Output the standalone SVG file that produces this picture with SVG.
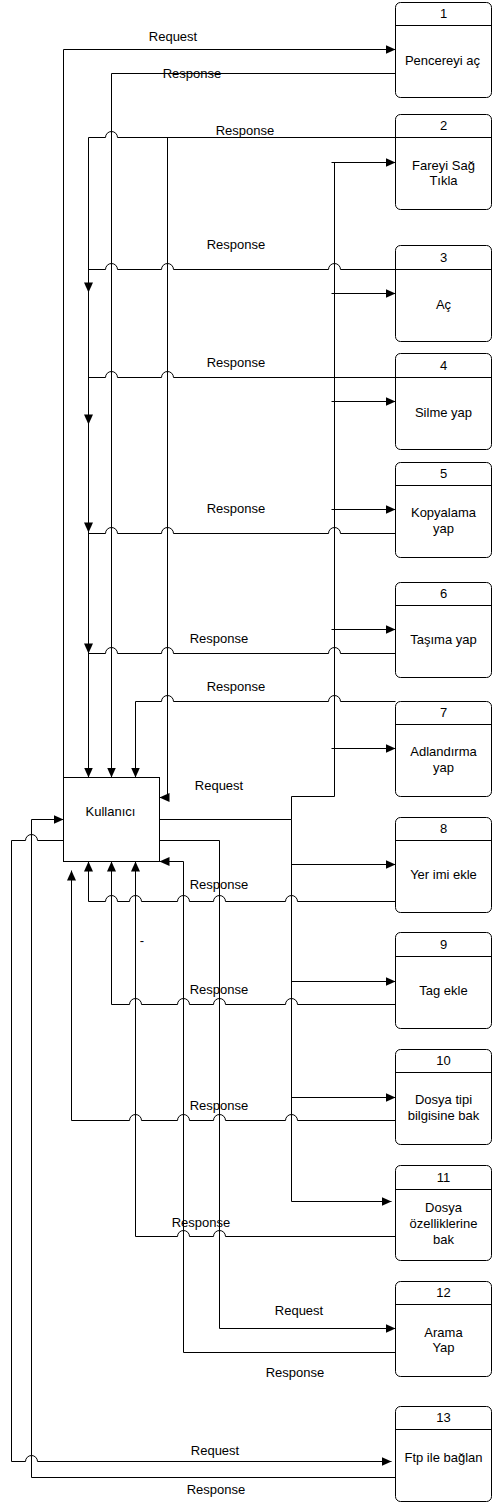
<svg xmlns="http://www.w3.org/2000/svg" xmlns:xlink="http://www.w3.org/1999/xlink" width="493" height="1503" viewBox="0 0 493 1503">
<style>
.ln{fill:none;stroke:#000;stroke-width:1}
.box{fill:#fff;stroke:#000;stroke-width:1}
.t{font-family:"Liberation Sans",Arial,sans-serif;font-size:13px;fill:#000;text-anchor:middle}
.ah{fill:#000;stroke:none}
</style>
<defs>
<marker id="arr" markerUnits="userSpaceOnUse" markerWidth="10" markerHeight="9" refX="10" refY="4.5" orient="auto">
<path d="M0,0 L10,4.5 L0,9 Z" fill="#000"/>
</marker>
<path id="tri" d="M0,0 L-10,-4.5 L-10,4.5 Z"/>
</defs>
<rect width="493" height="1503" fill="#fff"/>
<g id="connectors" transform="translate(0.5,0.5)">
<path class="ln" d="M63,777 V49 H395" marker-end="url(#arr)"/>
<path class="ln" d="M395,73 H111 V777" marker-end="url(#arr)"/>
<path class="ln" d="M395,137 H117 a6,6 0 0 0 -12,0 H88 V777" marker-end="url(#arr)"/>
<path class="ln" d="M167,137 V797 H159" marker-end="url(#arr)"/>
<path class="ln" d="M395,269 H340 a6,6 0 0 0 -12,0 H173 a6,6 0 0 0 -12,0 H117 a6,6 0 0 0 -12,0 H88"/>
<path class="ln" d="M395,377 H173 a6,6 0 0 0 -12,0 H117 a6,6 0 0 0 -12,0 H88"/>
<path class="ln" d="M395,533 H340 a6,6 0 0 0 -12,0 H173 a6,6 0 0 0 -12,0 H117 a6,6 0 0 0 -12,0 H88"/>
<path class="ln" d="M395,653 H340 a6,6 0 0 0 -12,0 H173 a6,6 0 0 0 -12,0 H117 a6,6 0 0 0 -12,0 H88"/>
<path class="ln" d="M395,701 H340 a6,6 0 0 0 -12,0 H173 a6,6 0 0 0 -12,0 H135 V777" marker-end="url(#arr)"/>
<use class="ah" href="#tri" transform="translate(88,292) rotate(90)"/>
<use class="ah" href="#tri" transform="translate(88,424) rotate(90)"/>
<use class="ah" href="#tri" transform="translate(88,532) rotate(90)"/>
<use class="ah" href="#tri" transform="translate(88,653) rotate(90)"/>
<path class="ln" d="M159,819 H291 V796 H334 V162"/>
<path class="ln" d="M331,162 H395" marker-end="url(#arr)"/>
<path class="ln" d="M331,293 H395" marker-end="url(#arr)"/>
<path class="ln" d="M331,401 H395" marker-end="url(#arr)"/>
<path class="ln" d="M331,509 H395" marker-end="url(#arr)"/>
<path class="ln" d="M331,629 H395" marker-end="url(#arr)"/>
<path class="ln" d="M331,748 H395" marker-end="url(#arr)"/>
<path class="ln" d="M291,819 V1201 H391" marker-end="url(#arr)"/>
<path class="ln" d="M291,864 H395" marker-end="url(#arr)"/>
<path class="ln" d="M291,981 H395" marker-end="url(#arr)"/>
<path class="ln" d="M291,1097 H395" marker-end="url(#arr)"/>
<path class="ln" d="M395,901 H297 a6,6 0 0 0 -12,0 H225 a6,6 0 0 0 -12,0 H189 a6,6 0 0 0 -12,0 H141 a6,6 0 0 0 -12,0 H117 a6,6 0 0 0 -12,0 H88 V861" marker-end="url(#arr)"/>
<path class="ln" d="M395,1004 H297 a6,6 0 0 0 -12,0 H225 a6,6 0 0 0 -12,0 H189 a6,6 0 0 0 -12,0 H141 a6,6 0 0 0 -12,0 H111 V861" marker-end="url(#arr)"/>
<path class="ln" d="M395,1120 H297 a6,6 0 0 0 -12,0 H225 a6,6 0 0 0 -12,0 H189 a6,6 0 0 0 -12,0 H141 a6,6 0 0 0 -12,0 H71 V870" marker-end="url(#arr)"/>
<path class="ln" d="M395,1236 H225 a6,6 0 0 0 -12,0 H189 a6,6 0 0 0 -12,0 H135 V861" marker-end="url(#arr)"/>
<path class="ln" d="M159,840 H219 V1328 H395" marker-end="url(#arr)"/>
<path class="ln" d="M395,1352 H183 V861 H159" marker-end="url(#arr)"/>
<path class="ln" d="M63,840 H37 a6,6 0 0 0 -12,0 H11 V1461 H25 a6,6 0 0 1 12,0 H391" marker-end="url(#arr)"/>
<path class="ln" d="M395,1477 H31 V819 H63" marker-end="url(#arr)"/>
</g>
<g id="labels" class="t">
<text x="173" y="41">Request</text>
<text x="192" y="78">Response</text>
<text x="245" y="135">Response</text>
<text x="236" y="249">Response</text>
<text x="236" y="367">Response</text>
<text x="236" y="513">Response</text>
<text x="219" y="643">Response</text>
<text x="236" y="691">Response</text>
<text x="219" y="790">Request</text>
<text x="219" y="889">Response</text>
<text x="142" y="945">-</text>
<text x="219" y="994">Response</text>
<text x="219" y="1110">Response</text>
<text x="201" y="1227">Response</text>
<text x="299" y="1315">Request</text>
<text x="295" y="1377">Response</text>
<text x="215" y="1455">Request</text>
<text x="216" y="1494">Response</text>
</g>
<g transform="translate(0.5,0.5)">
<g id="kullanici"><rect class="box" x="63" y="777" width="96" height="84"/><text class="t" x="110" y="815">Kullanıcı</text></g>
<g id="n1"><rect class="box" x="395" y="2" width="96" height="95" rx="5"/><path class="ln" d="M395,25 H491"/><text class="t" x="443" y="17">1</text><text class="t" x="442" y="64">Pencereyi aç</text></g>
<g id="n2"><rect class="box" x="395" y="114" width="96" height="95" rx="5"/><path class="ln" d="M395,137 H491"/><text class="t" x="443" y="129">2</text><text class="t" x="443" y="169">Fareyi Sağ</text><text class="t" x="443" y="184">Tıkla</text></g>
<g id="n3"><rect class="box" x="395" y="245" width="96" height="96" rx="5"/><path class="ln" d="M395,269 H491"/><text class="t" x="443" y="261">3</text><text class="t" x="443" y="308">Aç</text></g>
<g id="n4"><rect class="box" x="395" y="353" width="96" height="96" rx="5"/><path class="ln" d="M395,377 H491"/><text class="t" x="443" y="369">4</text><text class="t" x="443" y="416">Silme yap</text></g>
<g id="n5"><rect class="box" x="395" y="462" width="96" height="95" rx="5"/><path class="ln" d="M395,485 H491"/><text class="t" x="443" y="477">5</text><text class="t" x="443" y="516">Kopyalama</text><text class="t" x="443" y="532">yap</text></g>
<g id="n6"><rect class="box" x="395" y="582" width="96" height="95" rx="5"/><path class="ln" d="M395,605 H491"/><text class="t" x="443" y="597">6</text><text class="t" x="443" y="643">Taşıma yap</text></g>
<g id="n7"><rect class="box" x="395" y="701" width="96" height="95" rx="5"/><path class="ln" d="M395,724 H491"/><text class="t" x="443" y="716">7</text><text class="t" x="443" y="755">Adlandırma</text><text class="t" x="443" y="771">yap</text></g>
<g id="n8"><rect class="box" x="395" y="817" width="96" height="95" rx="5"/><path class="ln" d="M395,840 H491"/><text class="t" x="443" y="832">8</text><text class="t" x="443" y="878">Yer imi ekle</text></g>
<g id="n9"><rect class="box" x="395" y="932" width="96" height="96" rx="5"/><path class="ln" d="M395,956 H491"/><text class="t" x="443" y="948">9</text><text class="t" x="443" y="994">Tag ekle</text></g>
<g id="n10"><rect class="box" x="395" y="1049" width="96" height="95" rx="5"/><path class="ln" d="M395,1072 H491"/><text class="t" x="443" y="1064">10</text><text class="t" x="443" y="1103">Dosya tipi</text><text class="t" x="443" y="1119">bilgisine bak</text></g>
<g id="n11"><rect class="box" x="395" y="1165" width="96" height="95" rx="5"/><path class="ln" d="M395,1189 H491"/><text class="t" x="443" y="1181">11</text><text class="t" x="443" y="1211">Dosya</text><text class="t" x="443" y="1227">özelliklerine</text><text class="t" x="443" y="1243">bak</text></g>
<g id="n12"><rect class="box" x="395" y="1281" width="96" height="95" rx="5"/><path class="ln" d="M395,1304 H491"/><text class="t" x="443" y="1296">12</text><text class="t" x="443" y="1336">Arama</text><text class="t" x="443" y="1351">Yap</text></g>
<g id="n13"><rect class="box" x="395" y="1406" width="96" height="95" rx="5"/><path class="ln" d="M395,1429 H491"/><text class="t" x="443" y="1421">13</text><text class="t" x="443" y="1461">Ftp ile bağlan</text></g>
</g>
</svg>
